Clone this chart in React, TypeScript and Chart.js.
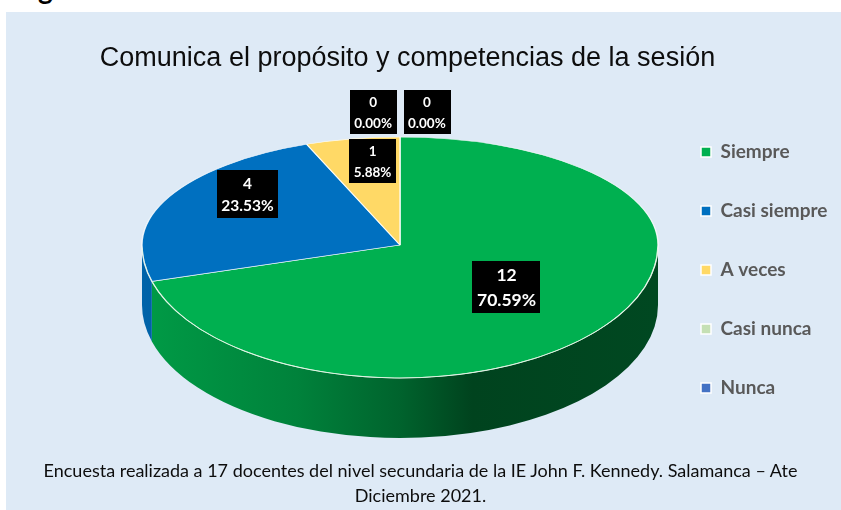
import React, { useEffect, useRef } from "react";
import { Chart, registerables } from "chart.js";

Chart.register(...registerables);

// ---------- data ----------
const TITLE = "Comunica el propósito y competencias de la sesión";
const CAPTION_LINES = [
  "Encuesta realizada a 17 docentes del nivel secundaria de la IE John F. Kennedy. Salamanca – Ate",
  "Diciembre 2021.",
];
const categories = ["Siempre", "Casi siempre", "A veces", "Casi nunca", "Nunca"];
const counts = [12, 4, 1, 0, 0];
const sliceColors = ["#00B050", "#0070C0", "#FFD966", "#C5E0B4", "#4472C4"];

// ---------- style / layout ----------
const PANEL_BG = "#DEEAF6";
const PIE = { cx: 400, cy: 245, rx: 258, ryBack: 108, ryFront: 133, depth: 60 };
const SIDE_SHADE: [number, number][] = [
  [0, 0.88],
  [0.3, 0.74],
  [0.5, 0.56],
  [0.64, 0.38],
  [1, 0.41],
];
const LABEL_FONT = "Lato";
const LABEL_FONT_SIZES = [17.5, 15.5, 13.5, 13.5, 13.5];
const LABEL_RADIUS = 0.6;
const LABEL_NUDGE: [number, number][] = [
  [-17, -6],
  [-14, -22],
  [1, -20],
  [0, 0],
  [0, 0],
];
const LABEL_PAD_X = 4.5;
const LABEL_GAP = 7;

function shade(hex: string, f: number): string {
  const n = parseInt(hex.slice(1), 16);
  const r = Math.round(((n >> 16) & 255) * f);
  const g = Math.round(((n >> 8) & 255) * f);
  const b = Math.round((n & 255) * f);
  return `rgb(${r},${g},${b})`;
}

function drawSides(ctx: CanvasRenderingContext2D, arcs: any[], colors: string[]) {
  const { cx, cy, rx, ryFront: ry, depth } = PIE;
  arcs.forEach((arc: any, i: number) => {
    const a1 = Math.max(arc.startAngle, 0);
    const a2 = Math.min(arc.endAngle, Math.PI);
    if (a2 <= a1) return;
    const grad = ctx.createLinearGradient(cx - rx, 0, cx + rx, 0);
    SIDE_SHADE.forEach(([t, f]) => grad.addColorStop(t, shade(colors[i], f)));
    ctx.beginPath();
    ctx.ellipse(cx, cy, rx, ry, 0, a1, a2, false);
    ctx.lineTo(cx + rx * Math.cos(a2), cy + depth + ry * Math.sin(a2));
    ctx.ellipse(cx, cy + depth, rx, ry, 0, a2, a1, true);
    ctx.closePath();
    ctx.fillStyle = grad;
    ctx.fill();
  });
}

function drawLabels(chart: any) {
  const ctx: CanvasRenderingContext2D = chart.ctx;
  const arcs = chart.getDatasetMeta(0).data;
  const data = chart.data.datasets[0].data as number[];
  const total = data.reduce((a, b) => a + b, 0);
  const zeros = data.map((v, i) => (v === 0 ? i : -1)).filter((i) => i >= 0);
  ctx.save();
  arcs.forEach((arc: any, i: number) => {
    const v = data[i];
    const lines = [String(v), ((v / total) * 100).toFixed(2) + "%"];
    const fs = LABEL_FONT_SIZES[i];
    ctx.font = `bold ${fs}px ${LABEL_FONT}`;
    const w = Math.max(...lines.map((l) => ctx.measureText(l).width)) + 2 * LABEL_PAD_X;
    const lh = fs + 7;
    const h = 2 * lh + 3;
    let lx: number;
    let ly: number;
    if (v === 0) {
      const k = zeros.indexOf(i);
      const n = zeros.length;
      lx = PIE.cx + (k - (n - 1) / 2) * (w + LABEL_GAP);
      ly = PIE.cy - PIE.ryBack - 25;
    } else {
      const mid = (arc.startAngle + arc.endAngle) / 2;
      const s = Math.sin(mid);
      const ry = s < 0 ? PIE.ryBack : PIE.ryFront;
      lx = PIE.cx + LABEL_RADIUS * PIE.rx * Math.cos(mid) + LABEL_NUDGE[i][0];
      ly = PIE.cy + LABEL_RADIUS * ry * s + LABEL_NUDGE[i][1];
    }
    ctx.fillStyle = "#000";
    ctx.fillRect(Math.round(lx - w / 2), Math.round(ly - h / 2), Math.round(w), Math.round(h));
    ctx.fillStyle = "#fff";
    ctx.textAlign = "center";
    ctx.textBaseline = "middle";
    ctx.fillText(lines[0], lx, ly - lh / 2 + 1);
    ctx.fillText(lines[1], lx, ly + lh / 2 + 1);
  });
  ctx.restore();
}

const pie3d = {
  id: "pie3d",
  beforeDatasetsDraw(chart: any) {
    const meta = chart.getDatasetMeta(0);
    const arcs = meta.data;
    if (!arcs.length) return;
    const ctx: CanvasRenderingContext2D = chart.ctx;
    const { x, y, outerRadius: R } = arcs[0];
    drawSides(ctx, arcs, chart.data.datasets[0].backgroundColor);
    const halves = [
      { ry: PIE.ryBack, y0: 0, y1: PIE.cy },
      { ry: PIE.ryFront, y0: PIE.cy, y1: chart.height },
    ];
    for (const hf of halves) {
      ctx.save();
      ctx.beginPath();
      ctx.rect(-100, hf.y0, chart.width + 200, hf.y1 - hf.y0);
      ctx.clip();
      ctx.translate(PIE.cx, PIE.cy);
      ctx.scale(PIE.rx / R, hf.ry / R);
      ctx.translate(-x, -y);
      meta.controller.draw();
      ctx.restore();
    }
    // light rim on the front edge of the top face
    ctx.save();
    ctx.beginPath();
    ctx.ellipse(PIE.cx, PIE.cy, PIE.rx, PIE.ryFront, 0, 0.02, Math.PI - 0.02);
    ctx.strokeStyle = "rgba(225,245,225,0.75)";
    ctx.lineWidth = 1;
    ctx.stroke();
    ctx.restore();
    drawLabels(chart);
    return false;
  },
};

export default function App() {
  const ref = useRef<HTMLCanvasElement>(null);
  useEffect(() => {
    const baseGen =
      (Chart as any).overrides?.pie?.plugins?.legend?.labels?.generateLabels ||
      (Chart as any).overrides?.doughnut?.plugins?.legend?.labels?.generateLabels;
    const chart = new Chart(ref.current as HTMLCanvasElement, {
      type: "pie",
      data: {
        labels: categories,
        datasets: [
          {
            data: counts,
            backgroundColor: sliceColors,
            borderColor: "rgba(255,255,255,0.85)",
            borderWidth: 1,
          },
        ],
      },
      options: {
        animation: false,
        responsive: true,
        maintainAspectRatio: false,
        devicePixelRatio: 1,
        events: [],
        layout: { padding: { left: -22.5, right: 3.5, top: 0, bottom: 54.4 } },
        plugins: {
          tooltip: { enabled: false },
          title: {
            display: true,
            text: TITLE,
            color: "#0d0d0d",
            font: { family: '"Liberation Sans", Arial, sans-serif', size: 27, weight: "normal" },
            padding: { top: 42, bottom: 10 },
          },
          legend: {
            display: true,
            position: "right",
            fullSize: false,
            labels: {
              boxWidth: 10,
              boxHeight: 10,
              padding: 40,
              color: "#595959",
              font: { family: LABEL_FONT, size: 19, weight: "bold" },
              generateLabels: (c: any) =>
                baseGen(c).map((l: any) => ({ ...l, lineWidth: 1.5, strokeStyle: "#ffffff" })),
            },
          },
        },
      } as any,
      plugins: [pie3d as any],
    });
    return () => chart.destroy();
  }, []);

  return (
    <div
      style={{
        position: "fixed",
        left: 0,
        top: 0,
        width: 841,
        height: 510,
        overflow: "hidden",
        background: "#ffffff",
      }}
    >
      <div style={{ position: "absolute", left: 6, top: 12, right: 0, bottom: 0, background: PANEL_BG }} />
      <div
        style={{
          position: "absolute",
          left: 38,
          top: -26.4,
          font: "bold 28px/28px Lato",
          color: "#000",
        }}
      >
        g
      </div>
      <div style={{ position: "absolute", left: 0, top: 0, width: 841, height: 510 }}>
        <canvas ref={ref} />
      </div>
      <div
        style={{
          position: "absolute",
          left: 0,
          top: 457.5,
          width: 841,
          textAlign: "center",
          fontFamily: "Lato",
          fontSize: 18,
          lineHeight: "25px",
          color: "#0d0d0d",
        }}
      >
        {CAPTION_LINES.map((t, i) => (
          <div key={i}>{t}</div>
        ))}
      </div>
    </div>
  );
}
